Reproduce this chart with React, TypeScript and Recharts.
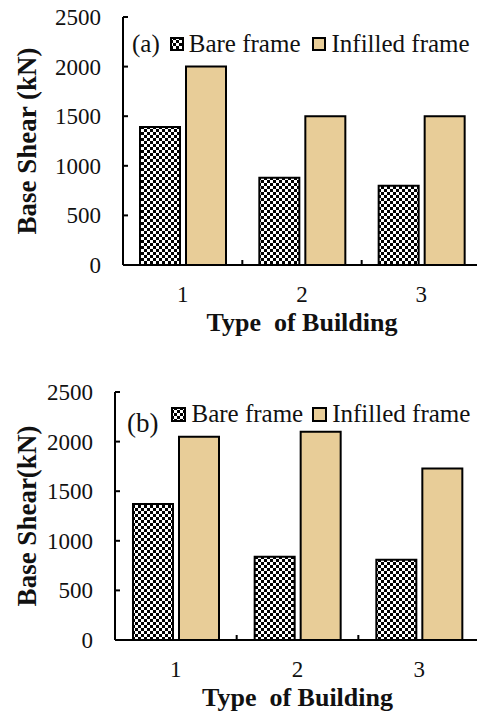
import React from 'react';
import { BarChart, Bar, XAxis, YAxis, Legend } from 'recharts';

// ---- data ----
const categories = ['1', '2', '3'];
const bareA = [1390, 880, 800];
const infilledA = [2000, 1500, 1500];
const bareB = [1370, 840, 810];
const infilledB = [2050, 2100, 1730];
const yTicks = [0, 500, 1000, 1500, 2000, 2500];
const seriesNames = ['Bare frame', 'Infilled frame'];
const xTitle = 'Type  of Building';
const yTitleA = 'Base Shear (kN)';
const yTitleB = 'Base Shear(kN)';

const FONT = '"Liberation Serif", "Times New Roman", serif';
const TAN = '#E8CD98';
const INK = '#111';

const buildRows = (bare: number[], inf: number[]) =>
  categories.map((c, i) => ({ cat: c, bare: bare[i], infilled: inf[i] }));

const rowsA = buildRows(bareA, infilledA);
const rowsB = buildRows(bareB, infilledB);

type PanelProps = {
  id: string;
  tag: string;
  rows: any[];
  top: number;
  height: number;
  plotLeft: number;
  plotTop: number;
  plotRight: number;
  plotBottom: number;
  yTitle: string;
  legendTop: number;
  legendLeft: number;
  tagDrop: number;
  tagGap: number;
  itemGap: number;
  swatchSize: number;
  tagSize: number;
};

function Panel(p: PanelProps) {
  const W = 490;
  const n = p.rows.length;
  const bw = (p.plotRight - p.plotLeft) / n;
  const patId = `chk-${p.id}`;

  const XTick = (props: any) => {
    const { x, y, payload, index } = props;
    return (
      <g>
        <line x1={x - bw / 2} x2={x - bw / 2} y1={y} y2={y - 5} stroke="#000" strokeWidth={2} />
        {index === n - 1 && (
          <line x1={x + bw / 2} x2={x + bw / 2} y1={y} y2={y - 5} stroke="#000" strokeWidth={2} />
        )}
        <text x={x} y={y + 37} textAnchor="middle" fontFamily={FONT} fontSize={23} fill={INK}>
          {payload.value}
        </text>
      </g>
    );
  };

  const YTick = (props: any) => {
    const { x, y, payload } = props;
    return (
      <g>
        <line x1={x} x2={x + 5} y1={y} y2={y} stroke="#000" strokeWidth={2} />
        <text x={x - 22} y={y} dy="0.35em" textAnchor="end" fontFamily={FONT} fontSize={23} fill={INK}>
          {payload.value}
        </text>
      </g>
    );
  };

  const XTitle = (props: any) => {
    const vb = props.viewBox || {};
    const cx = (vb.x ?? p.plotLeft) + (vb.width ?? p.plotRight - p.plotLeft) / 2;
    const y = (vb.y ?? p.plotBottom) + 66;
    return (
      <text
        x={cx}
        y={y}
        textAnchor="middle"
        fontFamily={FONT}
        fontWeight="bold"
        fontSize={26}
        fill={INK}
        style={{ whiteSpace: 'pre' }}
      >
        {xTitle}
      </text>
    );
  };

  const YTitle = (props: any) => {
    const vb = props.viewBox || {};
    const cy = (vb.y ?? p.plotTop) + (vb.height ?? p.plotBottom - p.plotTop) / 2;
    const cx = 27;
    return (
      <text
        x={cx}
        y={cy}
        dy="0.35em"
        textAnchor="middle"
        transform={`rotate(-90 ${cx} ${cy})`}
        fontFamily={FONT}
        fontWeight="bold"
        fontSize={27}
        fill={INK}
      >
        {p.yTitle}
      </text>
    );
  };

  const fills: Record<string, string> = { bare: `url(#${patId})`, infilled: TAN };
  const keys = ['bare', 'infilled'];

  const LegendContent = () => (
    <div
      style={{
        display: 'flex',
        alignItems: 'center',
        fontFamily: FONT,
        fontSize: 25,
        lineHeight: '28px',
        color: INK,
        whiteSpace: 'nowrap',
      }}
    >
      <span style={{ position: 'relative', top: p.tagDrop, fontSize: p.tagSize }}>{p.tag}</span>
      {keys.map((k, i) => (
        <span
          key={k}
          style={{ display: 'flex', alignItems: 'center', marginLeft: i === 0 ? p.tagGap : p.itemGap }}
        >
          <svg width={p.swatchSize} height={p.swatchSize} style={{ display: 'block' }}>
            <rect
              x={1}
              y={1}
              width={p.swatchSize - 2}
              height={p.swatchSize - 2}
              fill={fills[k]}
              stroke="#000"
              strokeWidth={2}
            />
          </svg>
          <span style={{ marginLeft: 5 }}>{seriesNames[i]}</span>
        </span>
      ))}
    </div>
  );

  return (
    <div style={{ position: 'absolute', left: 0, top: p.top }}>
      <BarChart
        width={W}
        height={p.height}
        data={p.rows}
        margin={{ top: p.plotTop, right: W - p.plotRight, bottom: 0, left: 0 }}
        barSize={40}
        barGap={6}
      >
        <defs>
          <pattern id={patId} width="6" height="6" patternUnits="userSpaceOnUse">
            <rect width="6" height="6" fill="#000" shapeRendering="crispEdges" />
            <rect x="0" y="0" width="3" height="3" fill="#fff" shapeRendering="crispEdges" />
            <rect x="3" y="3" width="3" height="3" fill="#fff" shapeRendering="crispEdges" />
          </pattern>
        </defs>
        <XAxis
          xAxisId="b"
          dataKey="cat"
          height={p.height - p.plotBottom}
          tickSize={0}
          tickMargin={0}
          tickLine={false}
          axisLine={{ stroke: '#000', strokeWidth: 2 }}
          tick={XTick}
          interval={0}
          label={XTitle}
        />
        <XAxis
          xAxisId="t"
          orientation="top"
          dataKey="cat"
          height={0}
          tick={false}
          tickLine={false}
          axisLine={{ stroke: '#000', strokeWidth: 2 }}
        />
        <YAxis
          yAxisId="l"
          width={p.plotLeft}
          domain={[0, 2500]}
          ticks={yTicks}
          interval={0}
          tickSize={0}
          tickMargin={0}
          tickLine={false}
          axisLine={{ stroke: '#000', strokeWidth: 2 }}
          tick={YTick}
          label={YTitle}
        />
        <YAxis
          yAxisId="r"
          orientation="right"
          width={0}
          domain={[0, 2500]}
          tick={false}
          tickLine={false}
          axisLine={{ stroke: '#000', strokeWidth: 2 }}
        />
        <Legend
          layout="horizontal"
          verticalAlign="middle"
          align="center"
          content={LegendContent}
          wrapperStyle={{ top: p.legendTop, left: p.legendLeft, width: 'auto', height: 'auto' }}
        />
        <Bar
          xAxisId="b"
          yAxisId="l"
          dataKey="bare"
          name={seriesNames[0]}
          fill={`url(#${patId})`}
          stroke="#000"
          strokeWidth={2}
          isAnimationActive={false}
        />
        <Bar
          xAxisId="b"
          yAxisId="l"
          dataKey="infilled"
          name={seriesNames[1]}
          fill={TAN}
          stroke="#000"
          strokeWidth={2}
          isAnimationActive={false}
        />
      </BarChart>
    </div>
  );
}

export default function App() {
  return (
    <div
      style={{
        position: 'absolute',
        left: 0,
        top: 0,
        width: 477,
        height: 716,
        overflow: 'hidden',
        background: '#fff',
      }}
    >
      <Panel
        id="a"
        tag="(a)"
        rows={rowsA}
        top={0}
        height={340}
        plotLeft={123}
        plotTop={17}
        plotRight={481}
        plotBottom={265}
        yTitle={yTitleA}
        legendTop={30}
        legendLeft={132}
        tagDrop={0}
        tagGap={10}
        itemGap={12}
        swatchSize={14}
        tagSize={25}
      />
      <Panel
        id="b"
        tag="(b)"
        rows={rowsB}
        top={340}
        height={376}
        plotLeft={115}
        plotTop={52}
        plotRight={480}
        plotBottom={300}
        yTitle={yTitleB}
        legendTop={60}
        legendLeft={127}
        tagDrop={9}
        tagGap={13}
        itemGap={9}
        swatchSize={15}
        tagSize={27}
      />
    </div>
  );
}
